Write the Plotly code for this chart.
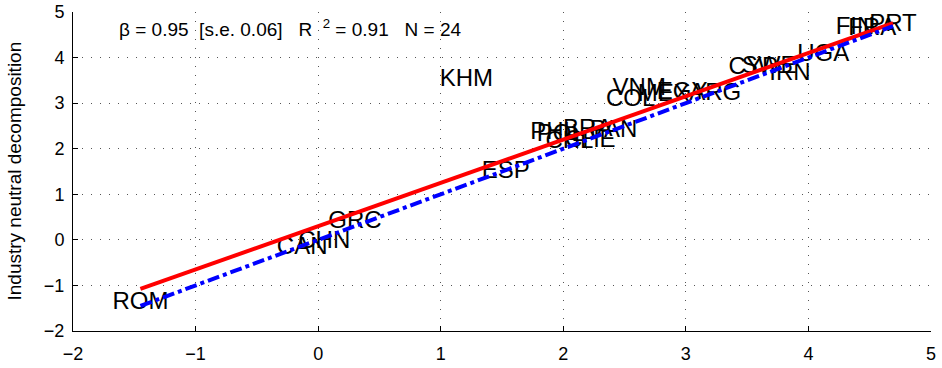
import numpy as np
import plotly.graph_objects as go

# Country labels and their coordinates
countries = ["ROM", "CAN", "CHN", "GRC", "ESP", "KHM", "PHL", "POL", "BRA", "PAN",
             "CHL", "CHE", "COL", "VNM", "MEX", "EGY", "ARG", "CYP", "SWE", "IRN",
             "UGA", "FIN", "FRA", "PRT"]
x_vals = [-1.45, -0.13, 0.05, 0.30, 1.53, 1.21, 1.92, 1.98, 2.20, 2.41,
          2.05, 2.22, 2.55, 2.62, 2.82, 2.97, 3.24, 3.55, 3.68, 3.85,
          4.12, 4.38, 4.52, 4.69]
y_vals = [-1.38, -0.18, -0.05, 0.40, 1.49, 3.50, 2.35, 2.30, 2.42, 2.38,
          2.15, 2.17, 3.07, 3.30, 3.18, 3.22, 3.20, 3.77, 3.80, 3.65,
          4.06, 4.65, 4.62, 4.71]

# Regression fit (from chart annotation / line)
fit_slope = 0.95
fit_intercept = 0.30

x_ticks = [-2, -1, 0, 1, 2, 3, 4, 5]
y_ticks = [-2, -1, 0, 1, 2, 3, 4, 5]

xr = np.array([min(x_vals), max(x_vals)])

fig = go.Figure()
fig.add_trace(go.Scatter(
    x=x_vals, y=y_vals, mode="text", text=countries,
    textposition="middle center",
    textfont=dict(family="Liberation Sans, Arial, sans-serif", size=24, color="black"),
    showlegend=False, hoverinfo="skip"))
fig.add_trace(go.Scatter(
    x=xr, y=fit_intercept + fit_slope * xr, mode="lines",
    line=dict(color="#ff0000", width=4), showlegend=False))
fig.add_trace(go.Scatter(
    x=xr, y=xr, mode="lines",
    line=dict(color="#0000ff", width=4, dash="dashdot"), showlegend=False))

fig.add_annotation(
    x=-1.64, y=4.65, xref="x", yref="y", xanchor="left", yanchor="middle",
    text="β = 0.95\u00a0\u00a0[s.e. 0.06]\u00a0\u00a0\u00a0R\u00a0\u00a0<sup>2</sup> = 0.91\u00a0\u00a0\u00a0N = 24",
    showarrow=False,
    font=dict(family="Liberation Sans, Arial, sans-serif", size=19, color="black"))

W, H = 942, 368
ml, mr, mt, mb = 73, 11, 12, 37
pw = W - ml - mr

fig.add_annotation(
    x=(14 - ml) / pw, y=0.5, xref="paper", yref="paper", xanchor="center", yanchor="middle",
    text="Industry neutral decomposition", textangle=-90, showarrow=False,
    font=dict(family="Liberation Sans, Arial, sans-serif", size=19, color="black"))

axis_common = dict(
    showgrid=True, gridcolor="#555555", griddash="1px,8px", gridwidth=1.2,
    zeroline=False, showline=True, linecolor="black", linewidth=1,
    ticks="inside", ticklen=5, tickcolor="black", mirror=False, automargin=False,
    ticklabeloverflow="allow",
    tickfont=dict(family="Liberation Sans Narrow, Arial Narrow, Liberation Sans, Arial, sans-serif",
                  size=18, color="black"),
)

fig.update_xaxes(range=[-2, 5], tickvals=x_ticks, ticklabelstandoff=6, **axis_common)
fig.update_yaxes(range=[-2, 5], tickvals=y_ticks, ticklabelstandoff=4, **axis_common)

fig.update_layout(
    width=W, height=H,
    margin=dict(l=ml, r=mr, t=mt, b=mb),
    plot_bgcolor="white", paper_bgcolor="white",
)

fig.write_html("out.html", config={"displayModeBar": False},
               post_script="document.body.style.margin='0';document.body.style.overflow='hidden';")
